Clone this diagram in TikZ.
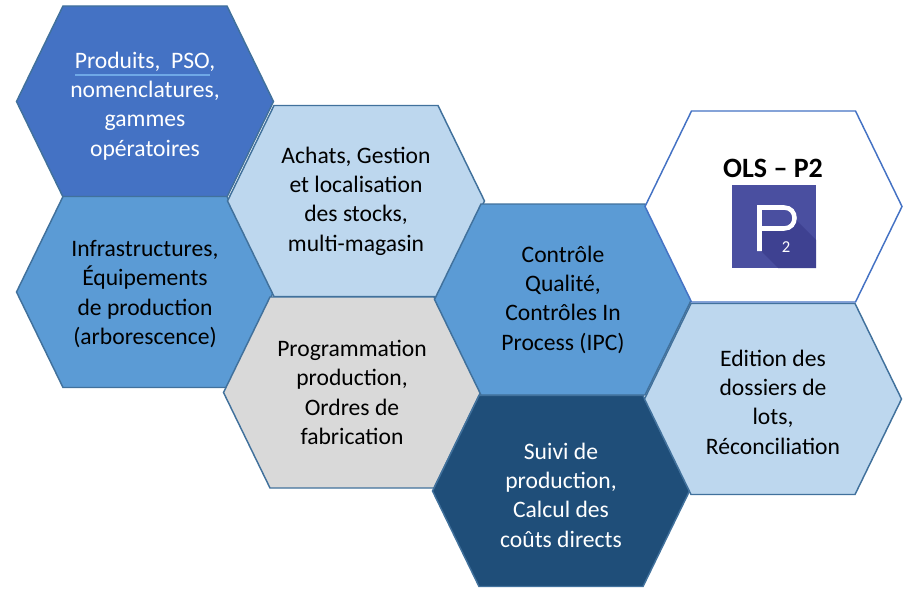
\documentclass[tikz,border=0pt]{standalone}
\usepackage{fontspec}
\setmainfont{Carlito}
\definecolor{cellA}{HTML}{4472C4}
\definecolor{cellB}{HTML}{5B9BD5}
\definecolor{cellC}{HTML}{BDD7EE}
\definecolor{cellD}{HTML}{D9D9D9}
\definecolor{cellE}{HTML}{1F4E79}
\definecolor{cellline}{HTML}{41719C}
\definecolor{linkblue}{HTML}{6FA8E6}
\definecolor{logoblue}{HTML}{4A4FA0}
\definecolor{logoshade}{HTML}{3E4191}
\tikzset{
  cell/.style={draw=cellline, line width=1.1pt, line join=miter},
  celltext/.style={align=center, inner sep=0pt, font=\fontsize{17.7}{22}\selectfont},
}

\begin{document}
\begin{tikzpicture}[x=0.75pt, y=-0.75pt]%
\useasboundingbox (0,0) rectangle (919,595);%
% cells
\draw[cell, fill=cellA] (16.5,101.5) -- ++(46.5,-95.5) -- ++(164,0) -- ++(46.5,95.5) -- ++(-46.5,95.5) -- ++(-164,0) -- cycle;%
\draw[cell, fill=cellB] (16.5,292) -- ++(46.5,-95.5) -- ++(164,0) -- ++(46.5,95.5) -- ++(-46.5,95.5) -- ++(-164,0) -- cycle;%
\draw[cell, fill=cellC] (227.5,201) -- ++(46.5,-95.5) -- ++(164,0) -- ++(46.5,95.5) -- ++(-46.5,95.5) -- ++(-164,0) -- cycle;%
\draw[cell, fill=cellD] (223.5,392.5) -- ++(46.5,-95.5) -- ++(164,0) -- ++(46.5,95.5) -- ++(-46.5,95.5) -- ++(-164,0) -- cycle;%
\draw[cell, fill=cellB] (434.5,299.5) -- ++(46.5,-95.5) -- ++(164,0) -- ++(46.5,95.5) -- ++(-46.5,95.5) -- ++(-164,0) -- cycle;%
\draw[cell, fill=cellE] (432.5,491) -- ++(46.5,-95.5) -- ++(164,0) -- ++(46.5,95.5) -- ++(-46.5,95.5) -- ++(-164,0) -- cycle;%
\draw[cell, fill=cellC] (644.5,399) -- ++(46.5,-95.5) -- ++(164,0) -- ++(46.5,95.5) -- ++(-46.5,95.5) -- ++(-164,0) -- cycle;%
\draw[cell, draw=cellA, fill=white] (645,206.5) -- ++(46.5,-95.5) -- ++(164,0) -- ++(46.5,95.5) -- ++(-46.5,95.5) -- ++(-164,0) -- cycle;%
% texts
\node[celltext, text=white] (produits) at (145,106) {Produits,\ \ PSO,\\nomenclatures,\\gammes\\opératoires};%
\coordinate (ulstart) at (75,75);%
\coordinate (ulend) at (210,75);%
\draw[linkblue, line width=0.9pt] (ulstart) -- (ulend);%
\node[celltext] (infra) at (145,294) {Infrastructures,\\Équipements\\de production\\(arborescence)};%
\node[celltext] (achats) at (356,201) {Achats, Gestion\\et localisation\\des stocks,\\multi-magasin};%
\node[celltext] (prog) at (352,392.5) {Programmation\\production,\\Ordres de\\fabrication};%
\node[celltext] (qualite) at (563,299.5) {Contrôle\\Qualité,\\Contrôles In\\Process (IPC)};%
\node[celltext, text=white] (suivi) at (561,495) {Suivi de\\production,\\Calcul des\\coûts directs};%
\node[celltext] (edition) at (773,402) {Edition des\\dossiers de\\lots,\\Réconciliation};%
% logo
\node[font=\fontsize{21}{25}\selectfont\bfseries, inner sep=0pt] (ols) at (773,168) {OLS – P2};%
\fill[logoblue] (732,185) rectangle (816,268);%
\fill[logoshade] (793,217) -- (816,240) -- (816,268) -- (778,268) -- (761,251) -- (762,230) -- (786,230) -- cycle;%
\draw[white, line width=3.4pt] (759.5,251) -- (759.5,207.5) -- (784,207.5) .. controls (798,207.5) and (798,228.5) .. (784,228.5) -- (761,228.5);%
\node[font=\fontsize{12.5}{14}\selectfont, text=white, inner sep=0pt] (two) at (786,247.5) {2};%
\end{tikzpicture}
\end{document}
